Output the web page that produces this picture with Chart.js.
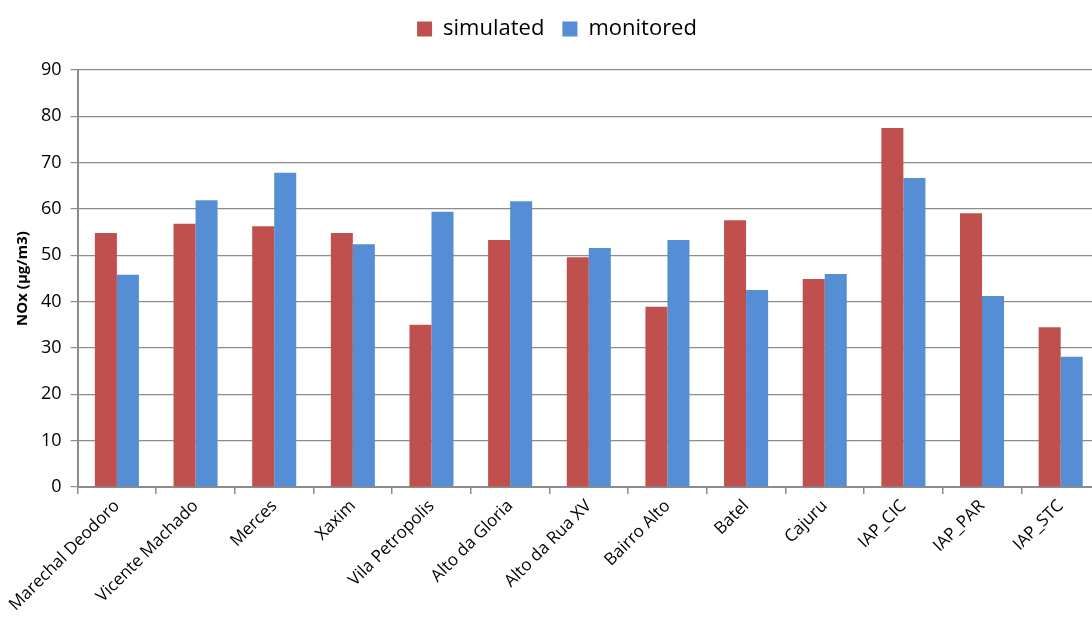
<!DOCTYPE html>
<html>
<head>
<meta charset="utf-8">
<script src="https://cdn.jsdelivr.net/npm/chart.js@4"></script>
<style>
  html, body { margin: 0; padding: 0; background: #fff; overflow: hidden; }
  #wrap { width: 1100px; height: 617px; }
</style>
</head>
<body>
<div id="wrap"><canvas id="noxChart"></canvas></div>
<script>
var stations = ["Marechal Deodoro", "Vicente Machado", "Merces", "Xaxim", "Vila Petropolis",
  "Alto da Gloria", "Alto da Rua XV", "Bairro Alto", "Batel", "Cajuru", "IAP_CIC", "IAP_PAR", "IAP_STC"];
var simulated = [54.8, 56.8, 56.3, 54.8, 35.0, 53.3, 49.6, 38.9, 57.6, 44.9, 77.5, 59.1, 34.5];
var monitored = [45.8, 61.9, 67.8, 52.4, 59.4, 61.7, 51.6, 53.3, 42.5, 46.0, 66.7, 41.2, 28.1];
var yTicks = [0, 10, 20, 30, 40, 50, 60, 70, 80, 90];

var fontFamily = "'Open Sans', 'Noto Sans', sans-serif";
var gridColor = "#8c8c8c";

// extra room between the legend and the plot
var legendGap = {
  id: 'legendGap',
  beforeInit: function(chart) {
    var fit = chart.legend.fit;
    chart.legend.fit = function() {
      fit.bind(chart.legend)();
      this.height += 20;
    };
  }
};

var ctx = document.getElementById("noxChart").getContext('2d');
var noxChart = new Chart(ctx, {
  type: 'bar',
  plugins: [legendGap],
  data: {
    labels: stations,
    datasets: [{
      label: 'simulated',
      data: simulated,
      backgroundColor: "#C0504D",
      borderWidth: 0,
      categoryPercentage: 0.56,
      barPercentage: 1.0
    }, {
      label: 'monitored',
      data: monitored,
      backgroundColor: "#558ED5",
      borderWidth: 0,
      categoryPercentage: 0.56,
      barPercentage: 1.0
    }]
  },
  options: {
    responsive: true,
    maintainAspectRatio: false,
    animation: false,
    layout: { padding: { top: 0, left: 14, right: 0, bottom: 0 } },
    plugins: {
      legend: {
        position: 'top',
        labels: {
          color: '#000',
          boxWidth: 15,
          boxHeight: 15,
          padding: 18,
          font: { family: fontFamily, size: 22 }
        }
      },
      tooltip: { enabled: false }
    },
    scales: {
      x: {
        offset: true,
        grid: {
          offset: true,
          drawOnChartArea: false,
          color: gridColor,
          lineWidth: 1.5,
          tickLength: 7
        },
        border: { color: gridColor, width: 2 },
        ticks: {
          color: '#000',
          minRotation: 45,
          maxRotation: 45,
          autoSkip: false,
          padding: 2,
          font: { family: fontFamily, size: 17 }
        }
      },
      y: {
        min: 0,
        max: 90,
        afterBuildTicks: function(scale) {
          scale.ticks = yTicks.map(function(v) { return { value: v }; });
        },
        grid: {
          color: gridColor,
          lineWidth: 1.2,
          tickLength: 7
        },
        border: { color: gridColor, width: 2 },
        ticks: {
          color: '#000',
          padding: 9,
          font: { family: fontFamily, size: 18 }
        },
        title: {
          display: true,
          text: 'NOx (µg/m3)',
          color: '#000',
          padding: { top: 0, bottom: 0 },
          font: { family: fontFamily, size: 15, weight: 'bold' }
        }
      }
    }
  }
});
</script>
</body>
</html>
